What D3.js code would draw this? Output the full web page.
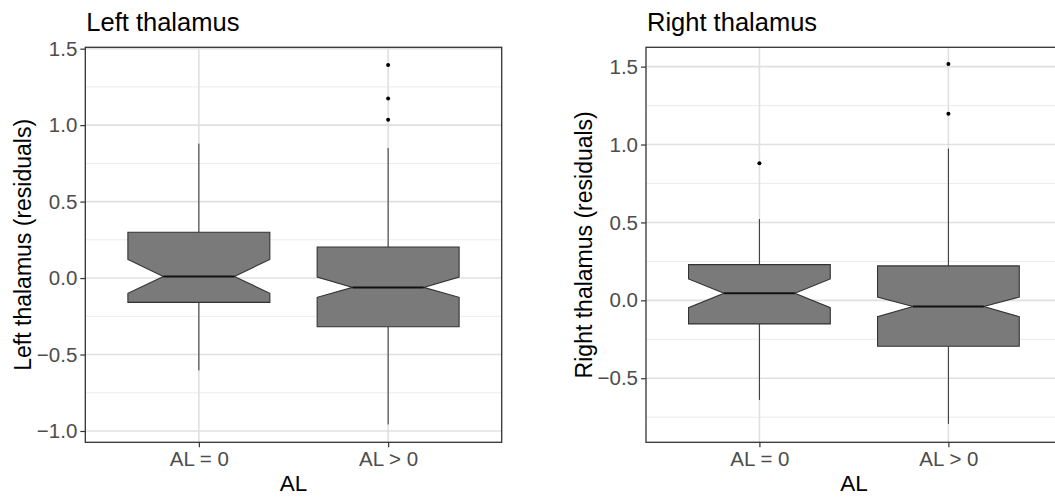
<!DOCTYPE html>
<html>
<head>
<meta charset="utf-8">
<script src="https://cdn.jsdelivr.net/npm/d3@7"></script>
<style>
  body { margin: 0; background: #fff; }
  svg text { font-family: "Liberation Sans", Arial, Helvetica, sans-serif; }
</style>
</head>
<body>
<div id="chart"></div>
<script>
// categories on the x axis
const categories = ["AL = 0", "AL > 0"];

// Left thalamus box stats (one entry per category)
const leftLower   = [-0.604, -0.957];
const leftQ1      = [-0.159, -0.318];
const leftMedian  = [ 0.011, -0.061];
const leftQ3      = [ 0.300,  0.203];
const leftUpper   = [ 0.879,  0.850];
const leftNotchLo = [-0.100, -0.126];
const leftNotchHi = [ 0.122,  0.006];
const leftOutliers = [[], [1.393, 1.175, 1.036]];
const leftTicks = [-1.0, -0.5, 0.0, 0.5, 1.0, 1.5];
const leftMinor = [-0.75, -0.25, 0.25, 0.75, 1.25];
const leftDomain = [-1.074, 1.509];

// Right thalamus box stats
const rightLower   = [-0.639, -0.793];
const rightQ1      = [-0.151, -0.295];
const rightMedian  = [ 0.045, -0.040];
const rightQ3      = [ 0.229,  0.221];
const rightUpper   = [ 0.522,  0.974];
const rightNotchLo = [-0.047, -0.105];
const rightNotchHi = [ 0.137,  0.021];
const rightOutliers = [[0.880], [1.517, 1.197]];
const rightTicks = [-0.5, 0.0, 0.5, 1.0, 1.5];
const rightMinor = [-0.75, -0.25, 0.25, 0.75, 1.25];
const rightDomain = [-0.911, 1.624];

const width = 1055, height = 500;

const svg = d3.select("#chart").append("svg")
  .attr("width", width)
  .attr("height", height);

function drawPanel(opt) {
  const x = d3.scalePoint().domain(categories).range([opt.left, opt.right]).padding(0.6);
  const y = d3.scaleLinear().domain(opt.domain).range([opt.bottom, opt.top]);
  const g = svg.append("g");

  // clip so the right panel is cut at the page edge like the original
  const clipId = "clip" + opt.id;
  svg.append("clipPath").attr("id", clipId)
    .append("rect").attr("x", opt.left).attr("y", opt.top)
    .attr("width", opt.right - opt.left).attr("height", opt.bottom - opt.top);

  const plot = g.append("g").attr("clip-path", `url(#${clipId})`);

  // grid
  plot.selectAll(".minor").data(opt.minor).enter().append("line")
    .attr("x1", opt.left).attr("x2", opt.right)
    .attr("y1", d => y(d)).attr("y2", d => y(d))
    .attr("stroke", "#ebebeb").attr("stroke-width", 1);
  plot.selectAll(".major").data(opt.ticks).enter().append("line")
    .attr("x1", opt.left).attr("x2", opt.right)
    .attr("y1", d => y(d)).attr("y2", d => y(d))
    .attr("stroke", "#e0e0e0").attr("stroke-width", 1.6);
  plot.selectAll(".vmajor").data(categories).enter().append("line")
    .attr("x1", d => x(d)).attr("x2", d => x(d))
    .attr("y1", opt.top).attr("y2", opt.bottom)
    .attr("stroke", "#e0e0e0").attr("stroke-width", 1.6);

  const bw = x.step() * 0.75;
  const stats = categories.map((c, i) => ({
    cat: c, lo: opt.lower[i], q1: opt.q1[i], med: opt.median[i], q3: opt.q3[i],
    hi: opt.upper[i], nlo: opt.notchLo[i], nhi: opt.notchHi[i], out: opt.outliers[i]
  }));

  // whiskers
  plot.selectAll(".whUp").data(stats).enter().append("line")
    .attr("x1", d => x(d.cat)).attr("x2", d => x(d.cat))
    .attr("y1", d => y(d.q3)).attr("y2", d => y(d.hi))
    .attr("stroke", "#333").attr("stroke-width", 1);
  plot.selectAll(".whLo").data(stats).enter().append("line")
    .attr("x1", d => x(d.cat)).attr("x2", d => x(d.cat))
    .attr("y1", d => y(d.q1)).attr("y2", d => y(d.lo))
    .attr("stroke", "#333").attr("stroke-width", 1);

  // notched boxes
  plot.selectAll(".box").data(stats).enter().append("path")
    .attr("d", d => {
      const x0 = x(d.cat) - bw / 2, x1 = x(d.cat) + bw / 2, ind = bw / 4;
      const pts = [
        [x0, y(d.q3)], [x0, y(d.nhi)], [x0 + ind, y(d.med)], [x0, y(d.nlo)],
        [x0, y(d.q1)], [x1, y(d.q1)], [x1, y(d.nlo)], [x1 - ind, y(d.med)],
        [x1, y(d.nhi)], [x1, y(d.q3)]
      ];
      return d3.line()(pts) + "Z";
    })
    .attr("fill", "#7a7a7a").attr("stroke", "#333").attr("stroke-width", 1.1);

  plot.selectAll(".med").data(stats).enter().append("line")
    .attr("x1", d => x(d.cat) - bw / 4).attr("x2", d => x(d.cat) + bw / 4)
    .attr("y1", d => y(d.med)).attr("y2", d => y(d.med))
    .attr("stroke", "#111").attr("stroke-width", 2);

  // outliers
  stats.forEach(s => {
    plot.selectAll(null).data(s.out).enter().append("circle")
      .attr("cx", x(s.cat)).attr("cy", d => y(d)).attr("r", 2)
      .attr("fill", "#000");
  });

  // panel border
  g.append("rect")
    .attr("x", opt.left).attr("y", opt.top)
    .attr("width", opt.right - opt.left).attr("height", opt.bottom - opt.top)
    .attr("fill", "none").attr("stroke", "#333").attr("stroke-width", 1.3);

  // axes
  const yAxis = g.append("g").attr("transform", `translate(${opt.left},0)`)
    .call(d3.axisLeft(y).tickValues(opt.ticks).tickFormat(d3.format(".1f")).tickSize(5).tickPadding(3));
  const xAxis = g.append("g").attr("transform", `translate(0,${opt.bottom})`)
    .call(d3.axisBottom(x).tickSize(5).tickPadding(4));
  [yAxis, xAxis].forEach(a => {
    a.select(".domain").remove();
    a.selectAll(".tick line").attr("stroke", "#333").attr("stroke-width", 1.2);
    a.selectAll(".tick text").attr("fill", "#4d4d4d").style("font-size", "20.5px");
  });

  // titles
  g.append("text").attr("x", opt.left + 1).attr("y", 31)
    .style("font-size", "25.5px").attr("fill", "#000").text(opt.title);
  g.append("text").attr("x", (opt.left + opt.right) / 2).attr("y", 491)
    .attr("text-anchor", "middle").style("font-size", "22.5px").attr("fill", "#000").text("AL");
  g.append("text")
    .attr("transform", `translate(${opt.ylabX},${(opt.top + opt.bottom) / 2}) rotate(-90)`)
    .attr("text-anchor", "middle").style("font-size", "23px").attr("fill", "#000")
    .text(opt.ylabel);
}

drawPanel({
  id: "L", left: 85.3, right: 501.7, top: 47.3, bottom: 442.3, ylabX: 31,
  domain: leftDomain, ticks: leftTicks, minor: leftMinor,
  lower: leftLower, q1: leftQ1, median: leftMedian, q3: leftQ3, upper: leftUpper,
  notchLo: leftNotchLo, notchHi: leftNotchHi, outliers: leftOutliers,
  title: "Left thalamus", ylabel: "Left thalamus (residuals)"
});

drawPanel({
  id: "R", left: 646, right: 1061.8, top: 47.3, bottom: 442.3, ylabX: 592,
  domain: rightDomain, ticks: rightTicks, minor: rightMinor,
  lower: rightLower, q1: rightQ1, median: rightMedian, q3: rightQ3, upper: rightUpper,
  notchLo: rightNotchLo, notchHi: rightNotchHi, outliers: rightOutliers,
  title: "Right thalamus", ylabel: "Right thalamus (residuals)"
});
</script>
</body>
</html>
